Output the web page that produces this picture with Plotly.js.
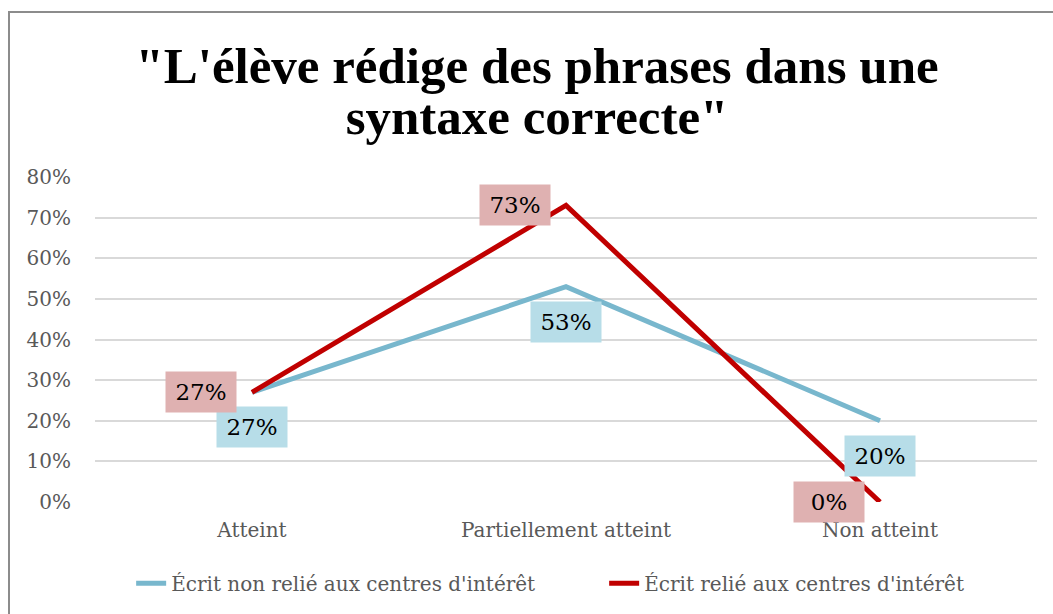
<!DOCTYPE html>
<html>
<head>
<meta charset="utf-8">
<script src="https://cdn.plot.ly/plotly-3.0.1.min.js"></script>
<style>
  html, body { margin: 0; padding: 0; background: #fff; overflow: hidden; }
  #frame { position: absolute; left: 8px; top: 11px; width: 1100px; height: 700px; border: 2px solid #8c8c8c; box-sizing: border-box; pointer-events: none; z-index: 5; }
  #chart { position: absolute; left: 0; top: 0; width: 1053px; height: 614px; }
</style>
</head>
<body>
<div id="chart"></div>
<div id="frame"></div>
<script>
const categories = ["Atteint", "Partiellement atteint", "Non atteint"];
const seriesNames = ["Écrit non relié aux centres d'intérêt", "Écrit relié aux centres d'intérêt"];
const nonRelie = [0.27, 0.53, 0.20];
const relie = [0.27, 0.73, 0.00];
const yTickVals = [0, 0.1, 0.2, 0.3, 0.4, 0.5, 0.6, 0.7, 0.8];
const yTickText = ["0%", "10%", "20%", "30%", "40%", "50%", "60%", "70%", "80%"];
const titleText = "\"L'élève rédige des phrases dans une<br>syntaxe correcte\"";

const FONT = "'DejaVu Serif', serif";
const TITLE_FONT = "'Liberation Serif', 'Times New Roman', serif";
const BLUE = "#78b7cd";
const RED = "#c00000";
const BLUE_BG = "#b7dde8";
const RED_BG = "#dfb1b1";

const traces = [
  { type: "scatter", mode: "lines", name: seriesNames[0], x: categories, y: nonRelie,
    line: { color: BLUE, width: 5 }, hoverinfo: "skip" },
  { type: "scatter", mode: "lines", name: seriesNames[1], x: categories, y: relie,
    line: { color: RED, width: 5 }, hoverinfo: "skip" }
];

const pct = v => Math.round(v * 100) + "%";
const annotations = [];
categories.forEach((c, i) => {
  annotations.push({ x: c, y: nonRelie[i], xref: "x", yref: "y", text: pct(nonRelie[i]),
    showarrow: false, xanchor: "center", yanchor: "top", yshift: -14,
    bgcolor: BLUE_BG, width: 70, height: 40, borderpad: 0,
    font: { family: FONT, size: 23, color: "#000" } });
  annotations.push({ x: c, y: relie[i], xref: "x", yref: "y", text: pct(relie[i]),
    showarrow: false, xanchor: "right", yanchor: "middle", xshift: -15,
    bgcolor: RED_BG, width: 70, height: 40, borderpad: 0,
    font: { family: FONT, size: 23, color: "#000" } });
});

const layout = {
  width: 1053, height: 614,
  paper_bgcolor: "#fff", plot_bgcolor: "#fff",
  margin: { l: 95, r: 16, t: 177, b: 112, autoexpand: false },
  font: { family: FONT, color: "#595959" },
  title: { text: titleText, x: 0.51, xanchor: "center", xref: "container",
    y: 0.927, yanchor: "top", yref: "container", pad: { t: 38 }, automargin: false,
    font: { family: TITLE_FONT, size: 51, color: "#000", weight: "bold" } },
  xaxis: { type: "category", range: [-0.5, 2.5], showgrid: false, zeroline: false, showline: false,
    ticks: "", tickfont: { size: 20, color: "#595959" }, ticklabelstandoff: 14, fixedrange: true },
  yaxis: { range: [0, 0.8], tickvals: yTickVals, ticktext: yTickText, showgrid: true,
    gridcolor: "#d9d9d9", gridwidth: 2, zeroline: false, showline: false, ticks: "",
    tickfont: { size: 20, color: "#595959" }, ticklabelstandoff: 23, fixedrange: true },
  legend: { orientation: "h", x: 0.5405, xanchor: "center", y: -0.19, yanchor: "top",
    font: { size: 20, color: "#595959" }, entrywidth: 428, entrywidthmode: "pixels" },
  annotations: annotations,
  showlegend: true
};

Plotly.newPlot("chart", traces, layout, { displayModeBar: false, staticPlot: true }).then(gd => {
  // tighten the title's line spacing to match the reference
  const lines = gd.querySelectorAll(".gtitle tspan.line");
  if (lines.length > 1) lines[1].setAttribute("dy", "51px");
});
</script>
</body>
</html>
